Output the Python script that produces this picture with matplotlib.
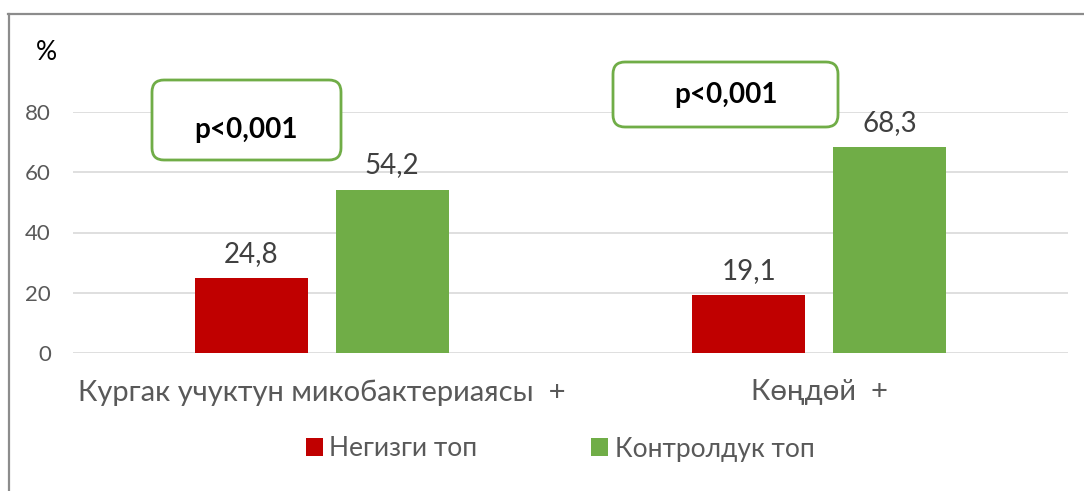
import numpy as np
import matplotlib.pyplot as plt
from matplotlib.patches import FancyBboxPatch
from matplotlib.lines import Line2D
from matplotlib.transforms import IdentityTransform

plt.rcParams['font.family'] = ['Lato', 'DejaVu Sans']

categories = ["Кургак учуктун микобактериаясы  +", "Көңдөй  +"]
main_group = [24.8, 19.1]
control_group = [54.2, 68.3]
series_names = ["Негизги топ", "Контролдук топ"]
p_labels = ["p<0,001", "p<0,001"]
y_ticks = [0, 20, 40, 60, 80]

red = "#C00000"
green = "#70AD47"
txt = "#595959"

fig = plt.figure(figsize=(10.84, 4.91), dpi=100)
ax = fig.add_axes([73/1084, 138/491, 995/1084, 241/491])

x = np.arange(len(categories))
w = 0.227
off = 0.1417
b1 = ax.bar(x - off, main_group, w, color=red, label=series_names[0], zorder=3)
b2 = ax.bar(x + off, control_group, w, color=green, label=series_names[1], zorder=3)

# value labels above the bars, decimal comma
for bars, vals in [(b1, main_group), (b2, control_group)]:
    for b, v in zip(bars, vals):
        ax.text(b.get_x() + b.get_width()/2, v + 3.8, f"{v:.1f}".replace(".", ","),
                ha="center", va="bottom", fontsize=20, color="#404040")

ax.set_xlim(-0.5, 1.5)
ax.set_ylim(0, 80)
ax.set_yticks(y_ticks)
ax.yaxis.grid(True, color="#D9D9D9", lw=1.2, zorder=0)
ax.set_axisbelow(True)
for s in ax.spines.values():
    s.set_visible(False)
ax.tick_params(axis="y", length=0, pad=16, labelsize=16, labelcolor=txt)
ax.tick_params(axis="x", length=0, pad=19, labelsize=21, labelcolor=txt)
ax.set_xticks(x)
ax.set_xticklabels(categories)

# p-value boxes, drawn in pixel coordinates (x0, y0 from bottom, w, h)
boxes = [(152, 331, 189, 80), (613, 364, 225, 65)]
text_y = [361, 396]
for (bx, by, bw, bh), ty, lab in zip(boxes, text_y, p_labels):
    p = FancyBboxPatch((bx, by), bw, bh, boxstyle="round,pad=0,rounding_size=12",
                       transform=IdentityTransform(), fc="white", ec=green, lw=2,
                       zorder=5, clip_on=False)
    fig.add_artist(p)
    fig.text((bx + bw/2)/1084, ty/491, lab, ha="center", va="center", fontsize=20,
             fontweight="bold", color="black", zorder=6)

fig.text(46/1084, 1 - 53/491, "%", ha="center", va="center", fontsize=19, color="black")

leg = fig.legend(loc="center", bbox_to_anchor=(560/1084, 1 - 449/491), ncol=2,
                 frameon=False, fontsize=19, handlelength=0.65, handleheight=0.65,
                 handletextpad=0.25, columnspacing=4.3)
for t in leg.get_texts():
    t.set_color(txt)

# outer frame (left and top only visible)
fig.add_artist(Line2D([8.5/1084, 8.5/1084], [0, 1 - 13.5/491], color="#8C8C8C", lw=1.6))
fig.add_artist(Line2D([8/1084, 1083/1084], [1 - 13.5/491, 1 - 13.5/491], color="#8C8C8C", lw=1.6))

fig.savefig("out.png", dpi=100)
